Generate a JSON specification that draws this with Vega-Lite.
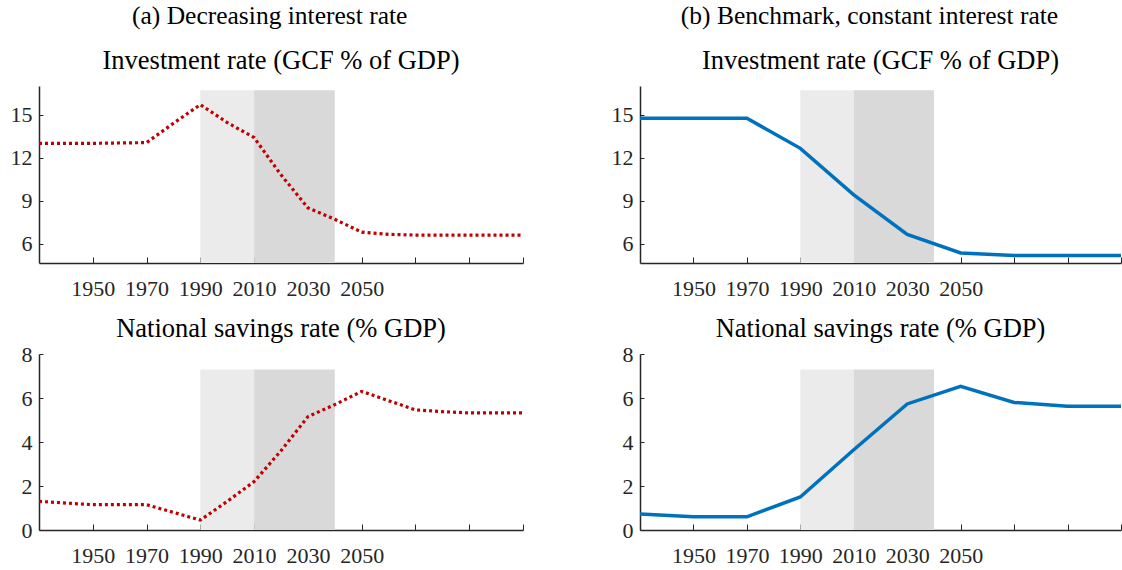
{
  "$schema": "https://vega.github.io/schema/vega-lite/v6.json",
  "background": "white",
  "padding": {"left": 10, "top": 4, "right": 0, "bottom": 4},
  "datasets": {
    "series": [
      {"panel": "a", "measure": "inv", "year": 1930, "value": 13.0},
      {"panel": "a", "measure": "inv", "year": 1950, "value": 13.0},
      {"panel": "a", "measure": "inv", "year": 1970, "value": 13.05},
      {"panel": "a", "measure": "inv", "year": 1980, "value": 14.4},
      {"panel": "a", "measure": "inv", "year": 1990, "value": 15.7},
      {"panel": "a", "measure": "inv", "year": 2000, "value": 14.45},
      {"panel": "a", "measure": "inv", "year": 2010, "value": 13.4},
      {"panel": "a", "measure": "inv", "year": 2020, "value": 10.8},
      {"panel": "a", "measure": "inv", "year": 2030, "value": 8.5},
      {"panel": "a", "measure": "inv", "year": 2040, "value": 7.7},
      {"panel": "a", "measure": "inv", "year": 2050, "value": 6.8},
      {"panel": "a", "measure": "inv", "year": 2060, "value": 6.65},
      {"panel": "a", "measure": "inv", "year": 2070, "value": 6.6},
      {"panel": "a", "measure": "inv", "year": 2090, "value": 6.6},
      {"panel": "a", "measure": "inv", "year": 2110, "value": 6.6},
      {"panel": "a", "measure": "sav", "year": 1930, "value": 1.3},
      {"panel": "a", "measure": "sav", "year": 1950, "value": 1.15},
      {"panel": "a", "measure": "sav", "year": 1970, "value": 1.15},
      {"panel": "a", "measure": "sav", "year": 1980, "value": 0.8},
      {"panel": "a", "measure": "sav", "year": 1990, "value": 0.45},
      {"panel": "a", "measure": "sav", "year": 2000, "value": 1.3},
      {"panel": "a", "measure": "sav", "year": 2010, "value": 2.2},
      {"panel": "a", "measure": "sav", "year": 2020, "value": 3.6},
      {"panel": "a", "measure": "sav", "year": 2030, "value": 5.15},
      {"panel": "a", "measure": "sav", "year": 2040, "value": 5.7},
      {"panel": "a", "measure": "sav", "year": 2050, "value": 6.3},
      {"panel": "a", "measure": "sav", "year": 2070, "value": 5.46},
      {"panel": "a", "measure": "sav", "year": 2080, "value": 5.38},
      {"panel": "a", "measure": "sav", "year": 2090, "value": 5.32},
      {"panel": "a", "measure": "sav", "year": 2110, "value": 5.32},
      {"panel": "b", "measure": "inv", "year": 1930, "value": 14.75},
      {"panel": "b", "measure": "inv", "year": 1950, "value": 14.75},
      {"panel": "b", "measure": "inv", "year": 1970, "value": 14.75},
      {"panel": "b", "measure": "inv", "year": 1990, "value": 12.65},
      {"panel": "b", "measure": "inv", "year": 2010, "value": 9.4},
      {"panel": "b", "measure": "inv", "year": 2030, "value": 6.65},
      {"panel": "b", "measure": "inv", "year": 2050, "value": 5.35},
      {"panel": "b", "measure": "inv", "year": 2070, "value": 5.18},
      {"panel": "b", "measure": "inv", "year": 2090, "value": 5.18},
      {"panel": "b", "measure": "inv", "year": 2110, "value": 5.18},
      {"panel": "b", "measure": "sav", "year": 1930, "value": 0.73},
      {"panel": "b", "measure": "sav", "year": 1950, "value": 0.6},
      {"panel": "b", "measure": "sav", "year": 1970, "value": 0.6},
      {"panel": "b", "measure": "sav", "year": 1990, "value": 1.5},
      {"panel": "b", "measure": "sav", "year": 2010, "value": 3.65},
      {"panel": "b", "measure": "sav", "year": 2030, "value": 5.73},
      {"panel": "b", "measure": "sav", "year": 2050, "value": 6.53},
      {"panel": "b", "measure": "sav", "year": 2070, "value": 5.8},
      {"panel": "b", "measure": "sav", "year": 2090, "value": 5.63},
      {"panel": "b", "measure": "sav", "year": 2110, "value": 5.63}
    ],
    "bands": [
      {"start": 1990, "end": 2010, "shade": "light"},
      {"start": 2010, "end": 2040, "shade": "dark"}
    ]
  },
  "hconcat": [
    {
      "title": {"text": "(a) Decreasing interest rate", "offset": 18, "fontSize": 25.5},
      "vconcat": [
        {
          "title": {"text": "Investment rate (GCF % of GDP)", "offset": 12},
          "width": 484,
          "height": 177,
          "layer": [
            {
              "data": {"name": "bands"},
              "mark": {"type": "rect"},
              "encoding": {
                "x": {"field": "start", "type": "quantitative", "title": null, "scale": {"domain": [1930, 2110], "nice": false},
                      "axis": {"values": [1950, 1970, 1990, 2010, 2030, 2050, 2070, 2090, 2110], "labelExpr": "datum.value <= 2050 ? datum.label : ''"}},
                "x2": {"field": "end"},
                "y": {"datum": 16.7, "type": "quantitative", "title": null, "scale": {"domain": [4.65, 17], "nice": false, "zero": false},
                      "axis": {"values": [6, 9, 12, 15]}},
                "y2": {"datum": 4.65},
                "color": {"field": "shade", "type": "nominal", "scale": {"domain": ["light", "dark"], "range": ["#ebebeb", "#d9d9d9"]}, "legend": null}
              }
            },
            {
              "data": {"name": "series"},
              "transform": [{"filter": "datum.panel == 'a' && datum.measure == 'inv'"}],
              "mark": {"type": "line", "color": "#c00000", "strokeWidth": 3.2, "strokeDash": [3, 3]},
              "encoding": {
                "x": {"field": "year", "type": "quantitative", "title": null},
                "y": {"field": "value", "type": "quantitative", "title": null}
              }
            }
          ]
        },
        {
          "title": {"text": "National savings rate (% GDP)", "offset": 1},
          "width": 484,
          "height": 176,
          "layer": [
            {
              "data": {"name": "bands"},
              "mark": {"type": "rect"},
              "encoding": {
                "x": {"field": "start", "type": "quantitative", "title": null, "scale": {"domain": [1930, 2110], "nice": false},
                      "axis": {"values": [1950, 1970, 1990, 2010, 2030, 2050, 2070, 2090, 2110], "labelExpr": "datum.value <= 2050 ? datum.label : ''"}},
                "x2": {"field": "end"},
                "y": {"datum": 7.3, "type": "quantitative", "title": null, "scale": {"domain": [0, 8], "nice": false},
                      "axis": {"values": [0, 2, 4, 6, 8]}},
                "y2": {"datum": 0},
                "color": {"field": "shade", "type": "nominal", "scale": {"domain": ["light", "dark"], "range": ["#ebebeb", "#d9d9d9"]}, "legend": null}
              }
            },
            {
              "data": {"name": "series"},
              "transform": [{"filter": "datum.panel == 'a' && datum.measure == 'sav'"}],
              "mark": {"type": "line", "color": "#c00000", "strokeWidth": 3.2, "strokeDash": [3, 3]},
              "encoding": {
                "x": {"field": "year", "type": "quantitative", "title": null},
                "y": {"field": "value", "type": "quantitative", "title": null}
              }
            }
          ]
        }
      ]
    },
    {
      "title": {"text": "(b) Benchmark, constant interest rate", "offset": 18, "fontSize": 25.5},
      "vconcat": [
        {
          "title": {"text": "Investment rate (GCF % of GDP)", "offset": 12},
          "width": 481,
          "height": 177,
          "layer": [
            {
              "data": {"name": "bands"},
              "mark": {"type": "rect"},
              "encoding": {
                "x": {"field": "start", "type": "quantitative", "title": null, "scale": {"domain": [1930, 2110], "nice": false},
                      "axis": {"values": [1950, 1970, 1990, 2010, 2030, 2050, 2070, 2090, 2110], "labelExpr": "datum.value <= 2050 ? datum.label : ''"}},
                "x2": {"field": "end"},
                "y": {"datum": 16.7, "type": "quantitative", "title": null, "scale": {"domain": [4.65, 17], "nice": false, "zero": false},
                      "axis": {"values": [6, 9, 12, 15]}},
                "y2": {"datum": 4.65},
                "color": {"field": "shade", "type": "nominal", "scale": {"domain": ["light", "dark"], "range": ["#ebebeb", "#d9d9d9"]}, "legend": null}
              }
            },
            {
              "data": {"name": "series"},
              "transform": [{"filter": "datum.panel == 'b' && datum.measure == 'inv'"}],
              "mark": {"type": "line", "color": "#0072bd", "strokeWidth": 3.5},
              "encoding": {
                "x": {"field": "year", "type": "quantitative", "title": null},
                "y": {"field": "value", "type": "quantitative", "title": null}
              }
            }
          ]
        },
        {
          "title": {"text": "National savings rate (% GDP)", "offset": 1},
          "width": 481,
          "height": 176,
          "layer": [
            {
              "data": {"name": "bands"},
              "mark": {"type": "rect"},
              "encoding": {
                "x": {"field": "start", "type": "quantitative", "title": null, "scale": {"domain": [1930, 2110], "nice": false},
                      "axis": {"values": [1950, 1970, 1990, 2010, 2030, 2050, 2070, 2090, 2110], "labelExpr": "datum.value <= 2050 ? datum.label : ''"}},
                "x2": {"field": "end"},
                "y": {"datum": 7.3, "type": "quantitative", "title": null, "scale": {"domain": [0, 8], "nice": false},
                      "axis": {"values": [0, 2, 4, 6, 8]}},
                "y2": {"datum": 0},
                "color": {"field": "shade", "type": "nominal", "scale": {"domain": ["light", "dark"], "range": ["#ebebeb", "#d9d9d9"]}, "legend": null}
              }
            },
            {
              "data": {"name": "series"},
              "transform": [{"filter": "datum.panel == 'b' && datum.measure == 'sav'"}],
              "mark": {"type": "line", "color": "#0072bd", "strokeWidth": 3.5},
              "encoding": {
                "x": {"field": "year", "type": "quantitative", "title": null},
                "y": {"field": "value", "type": "quantitative", "title": null}
              }
            }
          ]
        }
      ]
    }
  ],
  "spacing": 81,
  "config": {
    "font": "Liberation Serif",
    "view": {"stroke": null},
    "concat": {"spacing": 16},
    "title": {"fontSize": 26.5, "fontWeight": "normal", "color": "#000000", "anchor": "middle"},
    "axis": {
      "grid": false,
      "domainColor": "#262626",
      "domainWidth": 1.5,
      "tickColor": "#262626",
      "tickWidth": 1,
      "labelFont": "Liberation Serif",
      "labelFontSize": 22,
      "labelColor": "#262626",
      "format": "d"
    },
    "axisX": {"tickSize": -6, "labelPadding": 21, "labelFlush": false},
    "axisY": {"tickSize": -4, "labelPadding": 11}
  }
}
